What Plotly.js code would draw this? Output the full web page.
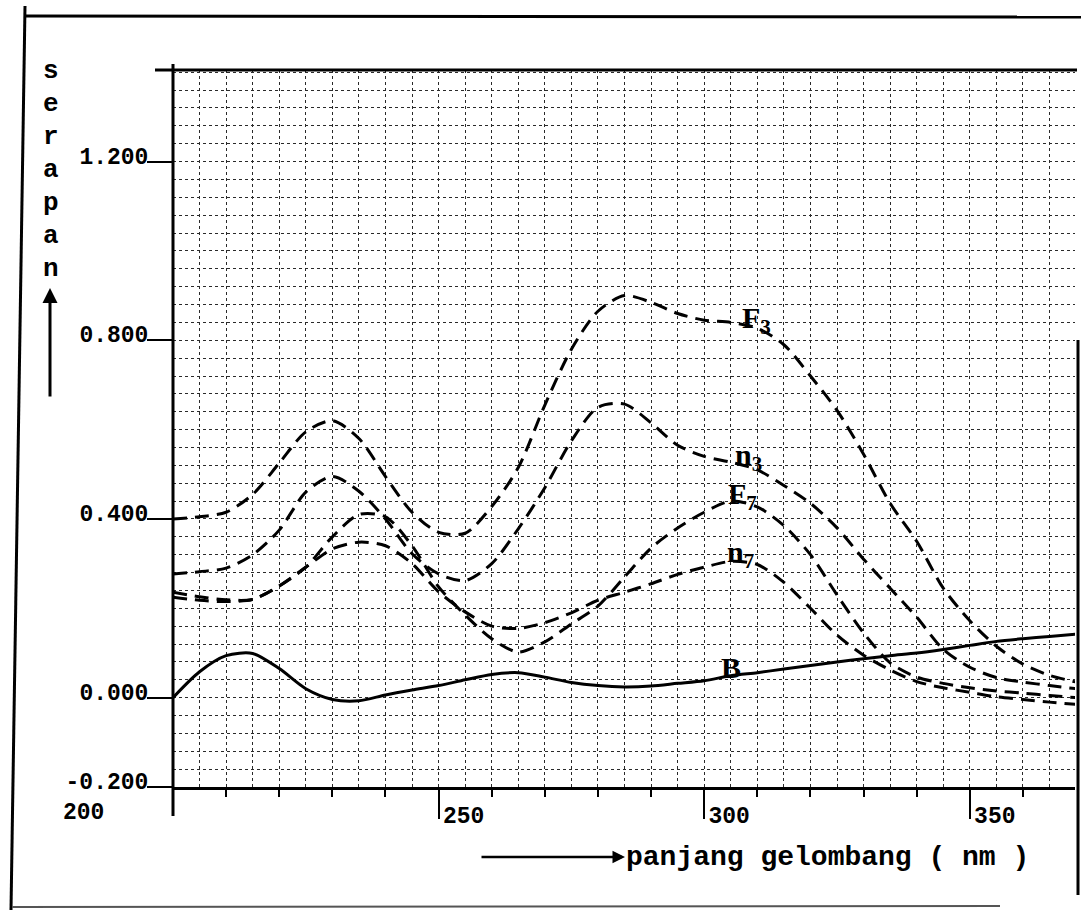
<!DOCTYPE html>
<html>
<head>
<meta charset="utf-8">
<script src="https://cdn.plot.ly/plotly-3.0.1.min.js"></script>
<style>
html,body{margin:0;padding:0;background:#fff;}
#chart{width:1081px;height:916px;}
</style>
</head>
<body>
<div id="chart"></div>
<script>
// Wavelength (nm) sample points
const wavelength = [200,205,210,215,220,225,230,235,240,245,250,255,260,265,270,275,280,285,290,295,300,305,310,315,320,325,330,335,340,345,350,355,360,365,370];

// Absorbance (serapan) for each curve
const seriesF3 = [0.400,0.405,0.415,0.455,0.525,0.595,0.620,0.580,0.495,0.415,0.370,0.368,0.428,0.515,0.655,0.780,0.865,0.900,0.885,0.860,0.845,0.840,0.827,0.790,0.720,0.643,0.545,0.435,0.350,0.245,0.172,0.115,0.075,0.050,0.035];
const seriesN3 = [0.277,0.282,0.290,0.320,0.375,0.460,0.495,0.462,0.400,0.322,0.277,0.262,0.300,0.378,0.470,0.575,0.650,0.657,0.615,0.565,0.540,0.527,0.510,0.475,0.435,0.380,0.310,0.245,0.180,0.108,0.068,0.045,0.035,0.027,0.020];
const seriesF7 = [0.236,0.226,0.219,0.220,0.250,0.292,0.360,0.410,0.405,0.340,0.248,0.185,0.132,0.102,0.125,0.165,0.205,0.270,0.335,0.380,0.415,0.440,0.427,0.385,0.320,0.230,0.145,0.078,0.046,0.032,0.022,0.015,0.010,0.005,0.000];
const seriesN7 = [0.225,0.218,0.215,0.220,0.250,0.292,0.333,0.348,0.340,0.300,0.237,0.192,0.160,0.155,0.168,0.190,0.218,0.236,0.255,0.276,0.292,0.305,0.298,0.258,0.200,0.140,0.095,0.062,0.036,0.022,0.012,0.002,-0.004,-0.010,-0.015];
const seriesB  = [0.000,0.058,0.094,0.099,0.065,0.020,-0.004,-0.007,0.006,0.017,0.027,0.040,0.052,0.056,0.046,0.034,0.027,0.024,0.026,0.032,0.038,0.049,0.056,0.064,0.072,0.080,0.087,0.094,0.100,0.108,0.117,0.126,0.132,0.137,0.142];

// Axis ticks and labels
const xLabelVals = [250,300,350];
const xLabelText = ['250','300','350'];
const xSmallTickVals = [210,220,230,240,260,270,280,290,310,320,330,340,360];
const yTickVals = [-0.2,0.0,0.4,0.8,1.2];
const yTickText = ['-0.200','0.000','0.400','0.800','1.200'];
const firstXLabel = '200';
const yTitleLetters = ['s','e','r','a','p','a','n'];
const xTitleText = 'panjang gelombang ( nm )';
const curveLabels = [
  {text:'F<sub>3</sub>', x:309.8, y:0.845},
  {text:'n<sub>3</sub>', x:308.3, y:0.539},
  {text:'F<sub>7</sub>', x:307.2, y:0.452},
  {text:'n<sub>7</sub>', x:306.8, y:0.322},
  {text:'B', x:305.0, y:0.068}
];

const MONO = 'Liberation Mono, DejaVu Sans Mono, monospace';
const dashStyle = '14px,8px';

function dashed(y, name){
  return {x: wavelength, y: y, name: name, type:'scatter', mode:'lines',
    line:{color:'#000', width:3, dash:dashStyle, shape:'spline', smoothing:0.8}, hoverinfo:'skip'};
}
const traces = [
  dashed(seriesF3,'F3'),
  dashed(seriesN3,'n3'),
  dashed(seriesF7,'F7'),
  dashed(seriesN7,'n7'),
  {x: wavelength, y: seriesB, name:'B', type:'scatter', mode:'lines',
   line:{color:'#000', width:3, shape:'spline', smoothing:0.8}, hoverinfo:'skip'},
  // empty trace that only carries the secondary (small-tick) x axis
  {x: [], y: [], xaxis:'x2', yaxis:'y', type:'scatter', mode:'lines', hoverinfo:'skip', showlegend:false}
];

// plot box in pixels: left 173, right 1075, top 70, bottom 787
const L=173, R=1075, T=70, B=787, W=R-L, H=B-T;
const px = v => (v-L)/W;
const py = v => (B-v)/H;

const GRID = '#2a2a2a';

const shapes = [
  // outer frame (scanned page border)
  {type:'line', xref:'paper', yref:'paper', x0:px(24), y0:py(16), x1:px(1081), y1:py(17), line:{color:'#000', width:3}},
  {type:'line', xref:'paper', yref:'paper', x0:px(25), y0:py(6), x1:px(11), y1:py(910), line:{color:'#000', width:3}},
  {type:'line', xref:'paper', yref:'paper', x0:px(12), y0:py(907), x1:px(1000), y1:py(906), line:{color:'#555', width:2}},
  {type:'line', xref:'paper', yref:'paper', x0:px(1078), y0:py(340), x1:px(1078), y1:py(895), line:{color:'#000', width:3}},
  // plot top border line
  {type:'line', xref:'paper', yref:'paper', x0:px(155), y0:1, x1:px(1077), y1:1, line:{color:'#000', width:3}},
  // extended left axis
  {type:'line', xref:'paper', yref:'paper', x0:0, y0:py(64), x1:0, y1:py(816), line:{color:'#000', width:3}}
];

const annotations = [];
yTitleLetters.forEach((c,i)=>{
  annotations.push({xref:'paper', yref:'paper', x:px(51), y:py(71+33*i), text:c, showarrow:false,
    xanchor:'center', yanchor:'middle', font:{family:MONO, size:26, color:'#000', weight:'bold'}});
});
// y arrow
annotations.push({xref:'paper', yref:'paper', x:px(50), y:py(288), ax:0, ay:110, text:'', showarrow:true,
  arrowhead:2, arrowsize:1, arrowwidth:3, arrowcolor:'#000'});
// x arrow + title
annotations.push({xref:'paper', yref:'paper', x:px(625), y:py(857), ax:-145, ay:0, text:'', showarrow:true,
  arrowhead:2, arrowsize:1, arrowwidth:2.5, arrowcolor:'#000'});
annotations.push({xref:'paper', yref:'paper', x:px(624), y:py(857), text:xTitleText, showarrow:false,
  xanchor:'left', yanchor:'middle', font:{family:MONO, size:28, color:'#000', weight:'bold'}});
// first x tick label (printed under the y labels)
annotations.push({xref:'paper', yref:'paper', x:px(61), y:py(813), text:firstXLabel, showarrow:false,
  xanchor:'left', yanchor:'middle', font:{family:MONO, size:23, color:'#000', weight:'bold'}});
// curve labels
curveLabels.forEach(c=>{
  annotations.push({xref:'x', yref:'y', x:c.x, y:c.y, text:c.text, showarrow:false,
    xanchor:'center', yanchor:'middle', font:{family:'Liberation Serif, serif', size:30, color:'#000', weight:'bold'}});
});

const layout = {
  width:1081, height:916,
  margin:{l:L, r:1081-R, t:T, b:916-B, pad:0},
  paper_bgcolor:'#fff', plot_bgcolor:'#fff',
  showlegend:false,
  xaxis:{
    range:[200,369.8], tickvals:xLabelVals, ticktext:xLabelText,
    ticks:'outside', ticklen:29, tickwidth:2, tickcolor:'#000',
    showline:true, linewidth:3, linecolor:'#000', zeroline:false,
    showgrid:true, gridcolor:GRID, griddash:'dot', gridwidth:1,
    ticklabelshift:25, ticklabelstandoff:-24,
    tickfont:{family:MONO, size:23, color:'#000', weight:'bold'},
    minor:{tick0:200, dtick:5, showgrid:true, gridcolor:GRID, griddash:'dot', gridwidth:1, ticks:''},
    fixedrange:true
  },
  xaxis2:{
    overlaying:'x', anchor:'y', side:'bottom', range:[200,369.8],
    tickvals:xSmallTickVals, showticklabels:false,
    ticks:'outside', ticklen:9, tickwidth:2, tickcolor:'#000',
    showgrid:false, zeroline:false, showline:false, fixedrange:true
  },
  yaxis:{
    range:[-0.2,1.405], tickvals:yTickVals, ticktext:yTickText,
    ticks:'outside', ticklen:25, tickwidth:2, tickcolor:'#000',
    showline:false, zeroline:false,
    showgrid:true, gridcolor:GRID, griddash:'dot', gridwidth:1,
    ticklabelshift:-6, ticklabelstandoff:-6,
    tickfont:{family:MONO, size:23, color:'#000', weight:'bold'},
    minor:{tick0:-0.2, dtick:0.04, showgrid:true, gridcolor:GRID, griddash:'dot', gridwidth:1, ticks:''},
    fixedrange:true
  },
  shapes:shapes,
  annotations:annotations
};

Plotly.newPlot('chart', traces, layout, {displayModeBar:false, staticPlot:true});
</script>
</body>
</html>
